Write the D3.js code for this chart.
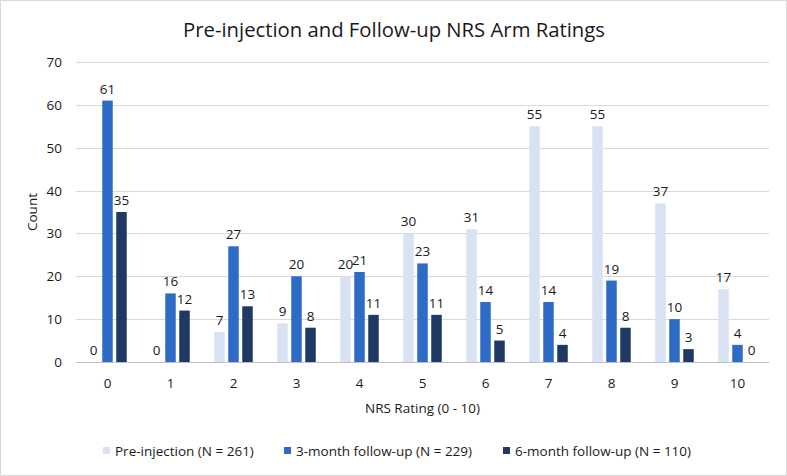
<!DOCTYPE html>
<html>
<head>
<meta charset="utf-8">
<script src="https://cdn.jsdelivr.net/npm/d3@7"></script>
<style>
  body { margin: 0; background: #fff; }
  svg text { font-family: "Open Sans", "Noto Sans", sans-serif; fill: #1a1a1a; }
</style>
</head>
<body>
<svg id="chart" width="787" height="476"></svg>
<script>
// data
var ratings = ["0", "1", "2", "3", "4", "5", "6", "7", "8", "9", "10"];
var seriesNames = ["Pre-injection (N = 261)", "3-month follow-up (N = 229)", "6-month follow-up (N = 110)"];
var preInjection = [0, 0, 7, 9, 20, 30, 31, 55, 55, 37, 17];
var threeMonth   = [61, 16, 27, 20, 21, 23, 14, 14, 19, 10, 4];
var sixMonth     = [35, 12, 13, 8, 11, 11, 5, 4, 8, 3, 0];
var yTicks = [0, 10, 20, 30, 40, 50, 60, 70];

var width = 787, height = 476;
var margin = {top: 62, right: 18, bottom: 114, left: 76};
var colors = ['#d9e2f3', '#2e6bc6', '#1f3864'];

var svg = d3.select("#chart");

// outer frame
svg.append("rect")
  .attr("x", 0.5).attr("y", 0.5)
  .attr("width", width - 1).attr("height", height - 1)
  .attr("fill", "#fff")
  .attr("stroke", "#d9d9d9");

var rows = ratings.map(function(r, i) {
  return {rating: r, values: [preInjection[i], threeMonth[i], sixMonth[i]]};
});

// Scales
var x0 = d3.scaleBand()
  .domain(ratings)
  .range([margin.left, width - margin.right])
  .paddingInner(0).paddingOuter(0);
var groupW = 38.5;
var x1 = d3.scaleBand()
  .domain([0, 1, 2])
  .range([0, groupW])
  .paddingInner(0.25);
var y = d3.scaleLinear()
  .domain([0, 70])
  .range([height - margin.bottom, margin.top]);

// Gridlines
svg.append("g")
  .selectAll("line")
  .data(yTicks)
  .enter().append("line")
    .attr("x1", margin.left)
    .attr("x2", width - margin.right)
    .attr("y1", function(d) { return Math.round(y(d)) + 0.5; })
    .attr("y2", function(d) { return Math.round(y(d)) + 0.5; })
    .style("stroke", function(d) { return d === 0 ? "#bfbfbf" : "#d9d9d9"; })
    .style("stroke-width", "1px");

// Y tick labels
svg.append("g")
  .selectAll("text")
  .data(yTicks)
  .enter().append("text")
    .attr("x", 62)
    .attr("y", function(d) { return y(d) + 5; })
    .attr("text-anchor", "end")
    .attr("font-size", "13.5px")
    .text(function(d) { return d; });

// Bars
var groups = svg.append("g")
  .selectAll("g")
  .data(rows)
  .enter().append("g")
    .attr("transform", function(d) {
      return "translate(" + (x0(d.rating) + x0.bandwidth() / 2 - groupW / 2) + ",0)";
    });

groups.selectAll("rect")
  .data(function(d) { return d.values; })
  .enter().append("rect")
    .attr("x", function(d, i) { return x1(i); })
    .attr("width", x1.bandwidth())
    .attr("y", function(d) { return y(d); })
    .attr("height", function(d) { return y(0) - y(d); })
    .attr("fill", function(d, i) { return colors[i]; });

// Bar value labels
groups.selectAll("text")
  .data(function(d) { return d.values; })
  .enter().append("text")
    .attr("x", function(d, i) { return x1(i) + x1.bandwidth() / 2; })
    .attr("y", function(d) { return y(d) - 7; })
    .attr("text-anchor", "middle")
    .attr("font-size", "13.5px")
    .text(function(d) { return d; });

// X category labels
svg.append("g")
  .selectAll("text")
  .data(ratings)
  .enter().append("text")
    .attr("x", function(d) { return x0(d) + x0.bandwidth() / 2; })
    .attr("y", height - margin.bottom + 26)
    .attr("text-anchor", "middle")
    .attr("font-size", "13.5px")
    .text(function(d) { return d; });

// Axis titles
svg.append("text")
  .attr("x", (margin.left + width - margin.right) / 2)
  .attr("y", 413)
  .attr("text-anchor", "middle")
  .attr("font-size", "13.5px")
  .text("NRS Rating (0 - 10)");

svg.append("text")
  .attr("transform", "translate(37,212) rotate(-90)")
  .attr("text-anchor", "middle")
  .attr("font-size", "13.5px")
  .text("Count");

// Title
svg.append("text")
  .attr("x", 394)
  .attr("y", 37)
  .attr("text-anchor", "middle")
  .attr("font-size", "20.3px")
  .text("Pre-injection and Follow-up NRS Arm Ratings");

// Legend
var legendX = [103, 284, 503];
var legend = svg.append("g")
  .selectAll("g")
  .data(seriesNames)
  .enter().append("g")
    .attr("transform", function(d, i) { return "translate(" + legendX[i] + ",451)"; });
legend.append("rect")
  .attr("x", 0).attr("y", -4)
  .attr("width", 7).attr("height", 7)
  .attr("fill", function(d, i) { return colors[i]; });
legend.append("text")
  .attr("x", 12)
  .attr("y", 5)
  .attr("font-size", "13.5px")
  .text(function(d) { return d; });
</script>
</body>
</html>
